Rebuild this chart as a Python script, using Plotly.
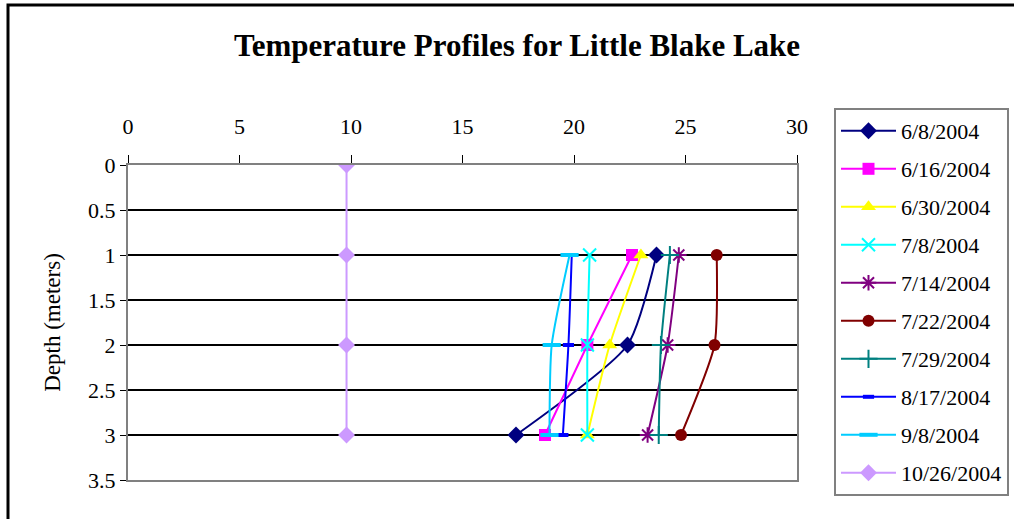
import plotly.graph_objects as go

dates = ["6/8/2004", "6/16/2004", "6/30/2004", "7/8/2004", "7/14/2004",
         "7/22/2004", "7/29/2004", "8/17/2004", "9/8/2004", "10/26/2004"]

depth_std = [1, 2, 3]
depth_oct = [0, 1, 2, 3]

temp_0608 = [23.7, 22.4, 17.4]
temp_0616 = [22.6, 20.6, 18.7]
temp_0630 = [23.0, 21.6, 20.6]
temp_0708 = [20.7, 20.6, 20.6]
temp_0714 = [24.7, 24.2, 23.3]
temp_0722 = [26.4, 26.3, 24.8]
temp_0729 = [24.3, 23.9, 23.8]
temp_0817 = [19.9, 19.75, 19.5]
temp_0908 = [19.8, 19.0, 18.9]
temp_1026 = [9.8, 9.8, 9.8, 9.8]

temps = [temp_0608, temp_0616, temp_0630, temp_0708, temp_0714,
         temp_0722, temp_0729, temp_0817, temp_0908, temp_1026]
depths = [depth_std] * 9 + [depth_oct]

colors = ["#000080", "#FF00FF", "#FFFF00", "#00FFFF", "#800080",
          "#800000", "#008080", "#0000FF", "#00CCFF", "#CC99FF"]
symbols = ["diamond", "square", "triangle-up", "x-thin-open", "asterisk-open",
           "circle", "cross-thin-open", "line-ew-open", "line-ew-open", "diamond"]
msizes = [13, 12, 13, 13, 13, 12, 13, 8, 13, 13]
mlw = [0, 0, 0, 2, 2, 0, 2, 4, 4, 0]

FONT = "Liberation Serif, Times New Roman, serif"

fig = go.Figure()
for i, d in enumerate(dates):
    fig.add_trace(go.Scatter(
        x=temps[i], y=depths[i], name=d, mode="lines+markers",
        line=dict(color=colors[i], width=2, shape="spline", smoothing=0.6),
        marker=dict(symbol=symbols[i], size=msizes[i], color=colors[i],
                    line=dict(color=colors[i], width=mlw[i])),
        legendgroup=d,
    ))

L, R, T, B = 128, 217, 165, 39
W, H = 1014, 519
pw, ph = W - L - R, H - T - B

def px(xp):
    return (xp - L) / pw

def py(yp):
    return (H - B - yp) / ph

fig.update_layout(
    width=W, height=H, autosize=False,
    margin=dict(l=L, r=R, t=T, b=B, pad=0, autoexpand=False),
    paper_bgcolor="white", plot_bgcolor="white",
    font=dict(family=FONT, size=22, color="black"),
    title=dict(text="<b>Temperature Profiles for Little Blake Lake</b>",
               x=(232 + 802) / 2 / W, xanchor="center",
               y=1 - 45 / H, yanchor="middle",
               font=dict(family=FONT, size=31, color="black")),
    xaxis=dict(range=[0, 30], dtick=5, side="top", ticks="outside",
               ticklen=8, tickcolor="black", tickwidth=1,
               ticklabelstandoff=12,
               showgrid=False, zeroline=False, showline=True,
               linecolor="#808080", linewidth=2, mirror=True,
               tickfont=dict(family=FONT, size=22)),
    yaxis=dict(range=[3.5, 0], dtick=0.5, ticks="outside", ticklen=6,
               tickcolor="black", tickwidth=1,
               showgrid=True, gridcolor="black", gridwidth=1.5,
               zeroline=False, showline=True, linecolor="#808080",
               linewidth=2, mirror=True,
               title=dict(text="Depth (meters)", standoff=21,
                          font=dict(family=FONT, size=23)),
               tickfont=dict(family=FONT, size=22)),
    legend=dict(x=px(834), y=py(108), xanchor="left", yanchor="top",
                bgcolor="white", bordercolor="#808080", borderwidth=2,
                font=dict(family=FONT, size=22), itemwidth=55,
                tracegroupgap=6.4, traceorder="grouped", maxheight=460),
    shapes=[dict(type="rect", xref="paper", yref="paper",
                 x0=px(8), x1=px(1017), y0=py(522), y1=py(5),
                 line=dict(color="black", width=3), layer="below")],
)

fig.write_html("out.html")
